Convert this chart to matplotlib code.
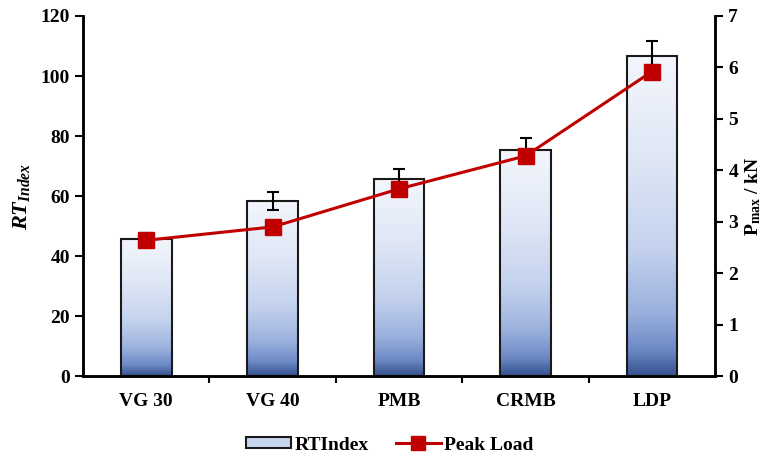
import numpy as np
import matplotlib.pyplot as plt
from matplotlib.colors import LinearSegmentedColormap
from matplotlib.patches import Rectangle, Patch
from matplotlib.lines import Line2D

plt.rcParams['font.family'] = ['Liberation Serif', 'DejaVu Serif']
plt.rcParams['font.weight'] = 'bold'
plt.rcParams['mathtext.fontset'] = 'custom'
plt.rcParams['mathtext.rm'] = 'Liberation Serif:bold'
plt.rcParams['mathtext.it'] = 'Liberation Serif:italic:bold'
plt.rcParams['mathtext.bf'] = 'Liberation Serif:bold'

binders = ["VG 30", "VG 40", "PMB", "CRMB", "LDP"]
rt_index = [45.7, 58.3, 65.7, 75.3, 106.7]
rt_err = [2.0, 3.0, 3.3, 4.0, 5.0]
peak_load = [2.64, 2.90, 3.64, 4.28, 5.92]

# light at the top of each bar, deep blue at its base
bar_cmap = LinearSegmentedColormap.from_list(
    "bar_grad",
    [(0.0, "#f3f6fc"), (0.35, "#dde5f5"), (0.6, "#c4d2ee"), (0.8, "#9bb1dd"),
     (0.92, "#6d89c6"), (1.0, "#34528f")])

fig = plt.figure(figsize=(7.69, 4.57), dpi=100)
ax = fig.add_axes([0.108, 0.177, 0.822, 0.788])

x = np.arange(len(binders))
width = 0.40
grad = np.linspace(0, 1, 256).reshape(-1, 1)
for xi, h in zip(x, rt_index):
    ax.imshow(grad, extent=[xi - width / 2, xi + width / 2, 0, h], origin='upper',
              aspect='auto', cmap=bar_cmap, zorder=2, interpolation='bilinear')
    ax.add_patch(Rectangle((xi - width / 2, 0), width, h, fill=False,
                           edgecolor='#1a1a1a', linewidth=1.5, zorder=3))

ax.errorbar(x, rt_index, yerr=rt_err, fmt='none', ecolor='black',
            elinewidth=1.5, capsize=4, capthick=1.5, zorder=4)

ax.set_xlim(-0.5, 4.5)
ax.set_ylim(0, 120)
ax.set_yticks(np.arange(0, 121, 20))
ax.set_xticks(x)
ax.set_xticklabels(binders)
ax.set_xticks(np.arange(0.5, 4.5, 1), minor=True)
ax.tick_params(axis='x', which='major', length=0, pad=12, labelsize=14)
ax.tick_params(axis='x', which='minor', length=5, width=1.5, direction='out')
ax.tick_params(axis='y', length=6, width=1.5, direction='out', labelsize=14)
ax.set_ylabel("$RT_{Index}$", fontsize=16, labelpad=6)
ax.spines['top'].set_visible(False)
for side in ['left', 'bottom', 'right']:
    ax.spines[side].set_linewidth(1.8)

ax2 = ax.twinx()
ax2.plot(x, peak_load, color='#c00000', linewidth=2.2, marker='s', markersize=11,
         zorder=5)
ax2.set_ylim(0, 7)
ax2.set_yticks(np.arange(0, 8, 1))
ax2.tick_params(axis='y', length=6, width=1.5, direction='out', labelsize=14)
ax2.set_ylabel("P$_{\\mathrm{max}}$ / kN", fontsize=14, fontweight='bold', labelpad=4)
ax2.spines['top'].set_visible(False)
for side in ['left', 'bottom', 'right']:
    ax2.spines[side].set_linewidth(1.8)

handles = [Patch(facecolor='#c9d6ef', edgecolor='#1a1a1a', linewidth=1.5),
           Line2D([0], [0], color='#c00000', linewidth=2.2, marker='s', markersize=10)]
fig.legend(handles, ["RTIndex", "Peak Load"], loc='center', bbox_to_anchor=(0.507, 0.026),
           ncol=2, frameon=False, fontsize=14, handlelength=2.3, handleheight=0.5,
           columnspacing=1.4, handletextpad=0.2)

fig.savefig("out.png", dpi=100)
